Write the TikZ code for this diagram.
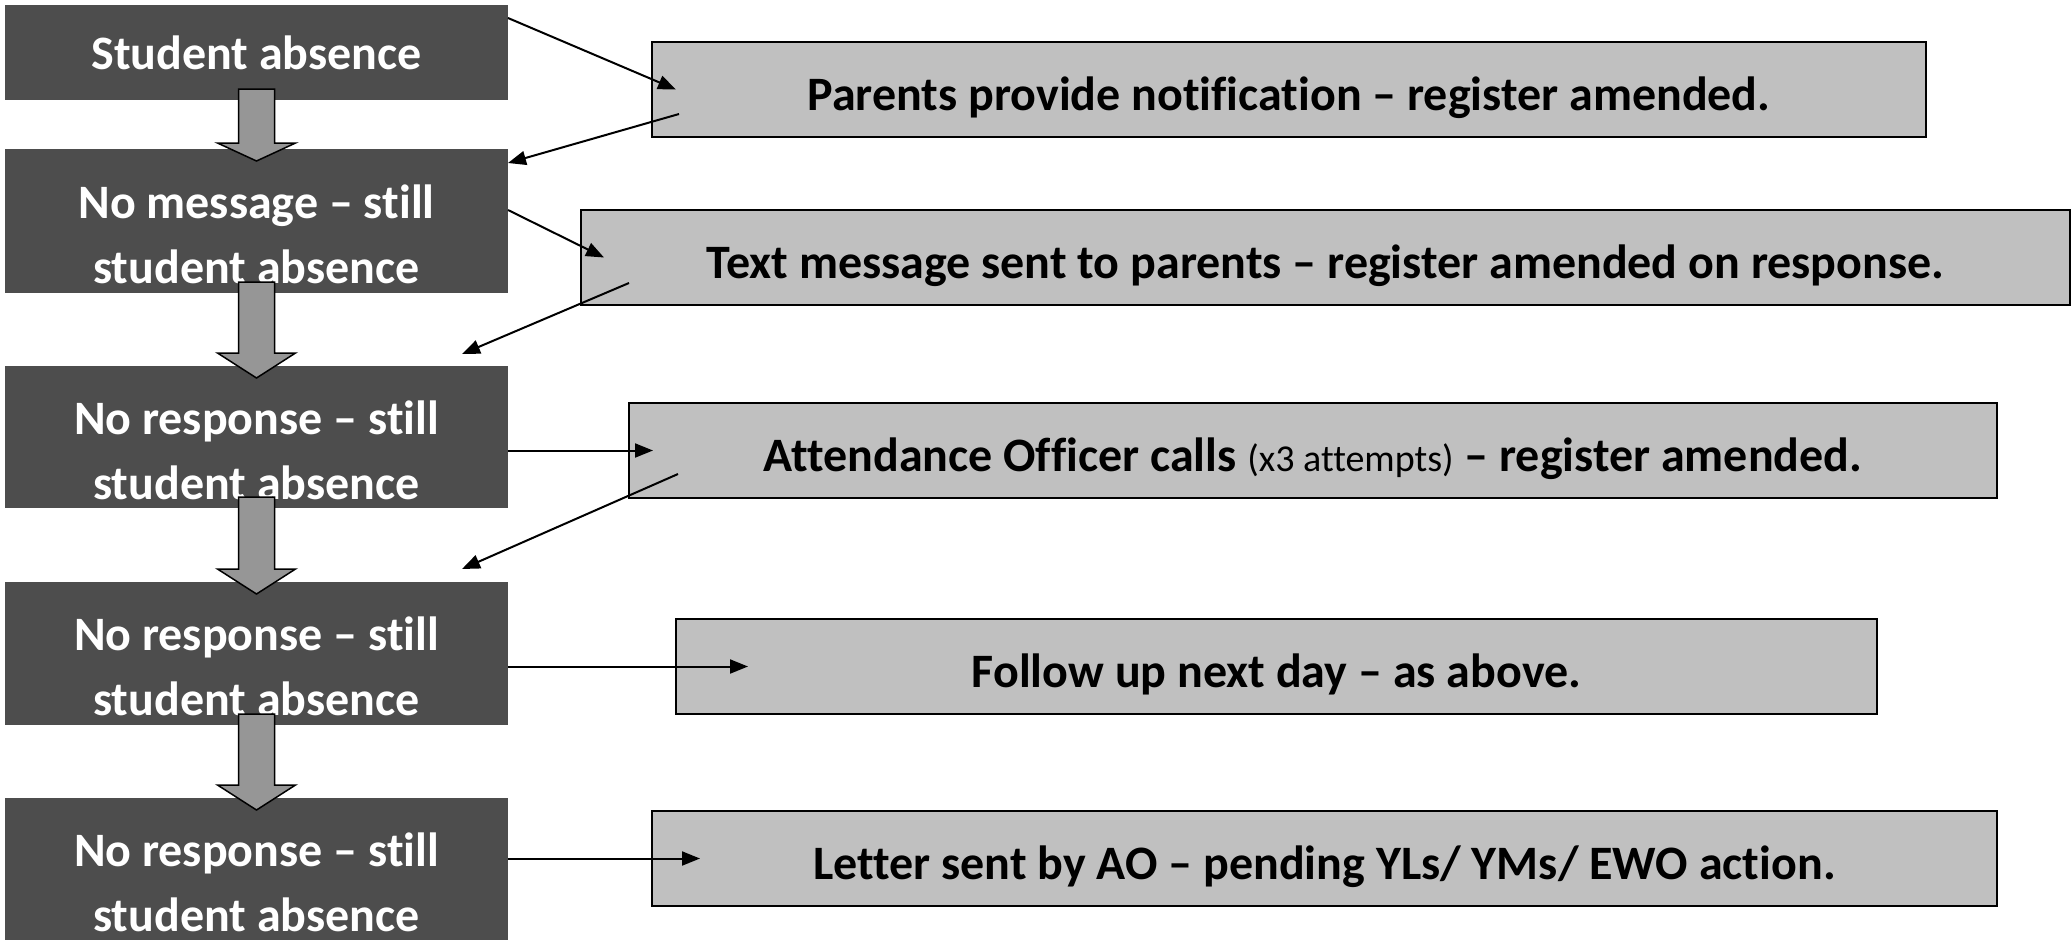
\documentclass[tikz,border=0pt]{standalone}
\usepackage{fontspec}
\setmainfont{Carlito}[Ligatures=NoCommon]
\usetikzlibrary{arrows.meta,positioning}
\definecolor{darkbox}{HTML}{4D4D4D}
\definecolor{lightbox}{HTML}{C0C0C0}
\definecolor{blockgray}{HTML}{969696}
\tikzset{
  stagebox/.style={fill=darkbox, draw=none, minimum width=503pt, inner sep=0pt, outer sep=0pt, text=white, font=\bfseries\fontsize{48}{65}\selectfont, align=center},
  actionbox/.style={fill=lightbox, draw=black, line width=2pt, minimum height=95pt, inner sep=0pt, outer sep=0pt, text height=54pt, text depth=12pt, font=\bfseries\fontsize{48}{56}\selectfont},
  arr/.style={-{Triangle[length=18pt,width=14pt]}, line width=2pt},
  blockarr/.style={fill=blockgray, draw=black, line width=1.5pt, line join=miter}
}
% first line of a stage sits lower in its box
\newcommand\lowstrut{\rule{0pt}{60pt}}
% thick down arrow between two stages: from, to, head length
\newcommand\downblock[3]{%
  \draw[blockarr] ([xshift=-18pt,yshift=11pt]#1.south) -- ([xshift=18pt,yshift=11pt]#1.south)
    -- ([xshift=18pt,yshift=#3pt-12pt]#2.north) -- ([xshift=39pt,yshift=#3pt-12pt]#2.north)
    -- ([yshift=-12pt]#2.north) -- ([xshift=-39pt,yshift=#3pt-12pt]#2.north)
    -- ([xshift=-18pt,yshift=#3pt-12pt]#2.north) -- cycle;}

\begin{document}
\begin{tikzpicture}[x=1pt,y=-1pt]
  \useasboundingbox (0,0) rectangle (2071,940);

  % stages on the left
  \node[stagebox, minimum height=95pt] (b1) at (256.5,52.5) {Student absence};
  \node[stagebox, minimum height=144pt, below=49pt of b1] (b2) {\lowstrut No message – still\\student absence};
  \node[stagebox, minimum height=142pt, below=73pt of b2] (b3) {\lowstrut No response – still\\student absence};
  \node[stagebox, minimum height=143pt, below=74pt of b3] (b4) {\lowstrut No response – still\\student absence};
  \node[stagebox, minimum height=142pt, below=73pt of b4] (b5) {\lowstrut No response – still\\student absence};

  % actions on the right
  \node[actionbox, minimum width=1274pt] (r1) at (1289,89.5) {Parents provide notification – register amended.};
  \node[actionbox, minimum width=1489pt] (r2) at (1325.5,257.5) {Text message sent to parents – register amended on response.};
  \node[actionbox, minimum width=1368pt] (r3) at (1313,450.5) {Attendance Officer calls {\mdseries\fontsize{38}{40}\selectfont (x3 attempts)} – register amended.};
  \node[actionbox, minimum width=1201pt] (r4) at (1276.5,666.5) {Follow up next day – as above.};
  \node[actionbox, minimum width=1345pt] (r5) at (1324.5,858.5) {Letter sent by AO – pending YLs/ YMs/ EWO action.};

  % block arrows down the left
  \downblock{b1}{b2}{18}
  \downblock{b2}{b3}{25}
  \downblock{b3}{b4}{25}
  \downblock{b4}{b5}{25}

  % arrows to and from the actions
  \draw[arr] ([yshift=-13pt]b1.north east) -- ([xshift=24pt]r1.west);
  \draw[arr] ([xshift=27pt,yshift=-24.5pt]r1.west) -- ([yshift=-14pt]b2.north east);
  \draw[arr] ([yshift=-61pt]b2.north east) -- ([xshift=23pt]r2.west);
  \draw[arr] ([xshift=48pt,yshift=-25.5pt]r2.west) -- ([xshift=-46pt,yshift=12pt]b3.north east);
  \draw[arr] (b3.east |- r3.west) -- ([xshift=24pt]r3.west);
  \draw[arr] ([xshift=49pt,yshift=-23.5pt]r3.west) -- ([xshift=-46pt,yshift=13pt]b4.north east);
  \draw[arr] (b4.east |- r4.west) -- ([xshift=72pt]r4.west);
  \draw[arr] (b5.east |- r5.west) -- ([xshift=48pt]r5.west);
\end{tikzpicture}
\end{document}
